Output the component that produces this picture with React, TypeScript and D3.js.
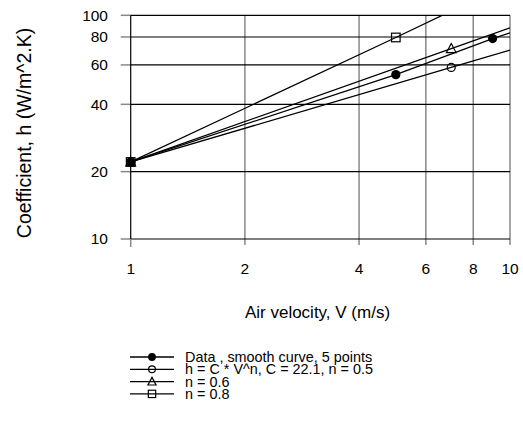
import React from "react";
import * as d3 from "d3";

const xTicks = [1, 2, 4, 6, 8, 10];
const yTicks = [10, 20, 40, 60, 80, 100];

const dataV = [1, 5, 9, 10];
const dataH = [22.1, 54.3, 78.7, 83.5];
const dataMarks = [true, true, true, false];

const n05V = [1, 7, 10];
const n05H = [22.1, 58.5, 69.9];
const n06V = [1, 7, 10];
const n06H = [22.1, 71.0, 87.9];
const n08V = [1, 5, 10];
const n08H = [22.1, 79.6, 139.4];
const theoryMarks = [true, true, false];

const legendLabels = [
  "Data , smooth curve, 5 points",
  "h = C * V^n,  C = 22.1, n = 0.5",
  "n = 0.6",
  "n = 0.8",
];

const W = 523;
const H = 427;
const left = 130.7;
const right = 510;
const top = 15.3;
const bottom = 239;
const FONT = "'Liberation Sans', Arial, sans-serif";

type Kind = "filled" | "circle" | "triangle" | "square";

function Marker({ kind, x, y, s = 1 }: { kind: Kind; x: number; y: number; s?: number }) {
  if (kind === "filled") return <circle cx={x} cy={y} r={4.6 * s} fill="#000" />;
  if (kind === "circle")
    return <circle cx={x} cy={y} r={4 * s} fill="none" stroke="#000" strokeWidth={1.2} />;
  if (kind === "triangle")
    return (
      <path
        d={`M${x},${y - 5 * s} L${x + 4.8 * s},${y + 4 * s} L${x - 4.8 * s},${y + 4 * s} Z`}
        fill="none"
        stroke="#000"
        strokeWidth={1.2}
      />
    );
  return (
    <rect
      x={x - 4.3 * s}
      y={y - 4.3 * s}
      width={8.6 * s}
      height={8.6 * s}
      fill="none"
      stroke="#000"
      strokeWidth={1.2}
    />
  );
}

export default function App() {
  const x = d3.scaleLog().domain([1, 10]).range([left, right]);
  const y = d3.scaleLog().domain([10, 100]).range([bottom, top]);
  const line = d3
    .line<[number, number]>()
    .x((d) => x(d[0]))
    .y((d) => y(d[1]));

  const series: { v: number[]; h: number[]; marks: boolean[]; kind: Kind }[] = [
    { v: n05V, h: n05H, marks: theoryMarks, kind: "circle" },
    { v: n06V, h: n06H, marks: theoryMarks, kind: "triangle" },
    { v: n08V, h: n08H, marks: theoryMarks, kind: "square" },
    { v: dataV, h: dataH, marks: dataMarks, kind: "filled" },
  ];
  const legendKinds: Kind[] = ["filled", "circle", "triangle", "square"];
  const legendY = [357, 369.3, 381.6, 393.9];

  return (
    <svg
      width={W}
      height={H}
      style={{ position: "absolute", left: 0, top: 0, background: "#fff" }}
      fontFamily={FONT}
    >
      <defs>
        <clipPath id="plotclip">
          <rect x={left} y={top} width={right - left} height={bottom - top} />
        </clipPath>
      </defs>
      {xTicks.slice(1).map((t) => (
        <line key={"vg" + t} x1={x(t)} x2={x(t)} y1={top} y2={bottom + 6} stroke="#888" strokeWidth={1.5} />
      ))}
      {yTicks.map((t) => (
        <g key={"hg" + t}>
          <line x1={left - 10} x2={left} y1={y(t)} y2={y(t)} stroke="#888" strokeWidth={1.5} />
          <line x1={left} x2={right} y1={y(t)} y2={y(t)} stroke="#000" strokeWidth={1.2} />
        </g>
      ))}
      <line x1={left} x2={left} y1={top} y2={bottom} stroke="#000" strokeWidth={1.2} />
      <line x1={left} x2={left} y1={bottom} y2={bottom + 8} stroke="#888" strokeWidth={1.5} />
      {yTicks.map((t) => (
        <text key={"yl" + t} x={108} y={y(t) + 5.4} textAnchor="end" fontSize={15.5} fill="#000">
          {t}
        </text>
      ))}
      {xTicks.map((t) => (
        <text key={"xl" + t} x={x(t)} y={274} textAnchor="middle" fontSize={15.5} fill="#000">
          {t}
        </text>
      ))}
      <g clipPath="url(#plotclip)">
        {series.map((s, i) => (
          <path
            key={"l" + i}
            d={line(s.v.map((v, j) => [v, s.h[j]] as [number, number])) || ""}
            fill="none"
            stroke="#000"
            strokeWidth={1.3}
          />
        ))}
      </g>
      {series.map((s, i) =>
        s.v.map((v, j) =>
          s.marks[j] ? <Marker key={"m" + i + "-" + j} kind={s.kind} x={x(v)} y={y(s.h[j])} /> : null
        )
      )}
      <text x={317.5} y={318} textAnchor="middle" fontSize={17} fill="#000">
        Air velocity, V (m/s)
      </text>
      <text transform={`translate(31,133) rotate(-90)`} textAnchor="middle" fontSize={19.5} fill="#000">
        Coefficient, h (W/m^2.K)
      </text>
      {legendLabels.map((lab, i) => (
        <g key={"lg" + i}>
          <line x1={130} x2={174} y1={legendY[i]} y2={legendY[i]} stroke="#000" strokeWidth={1.3} />
          <Marker kind={legendKinds[i]} x={152} y={legendY[i]} s={0.85} />
          <text x={185} y={legendY[i] + 5} fontSize={14.4} fill="#000">
            {lab}
          </text>
        </g>
      ))}
    </svg>
  );
}
